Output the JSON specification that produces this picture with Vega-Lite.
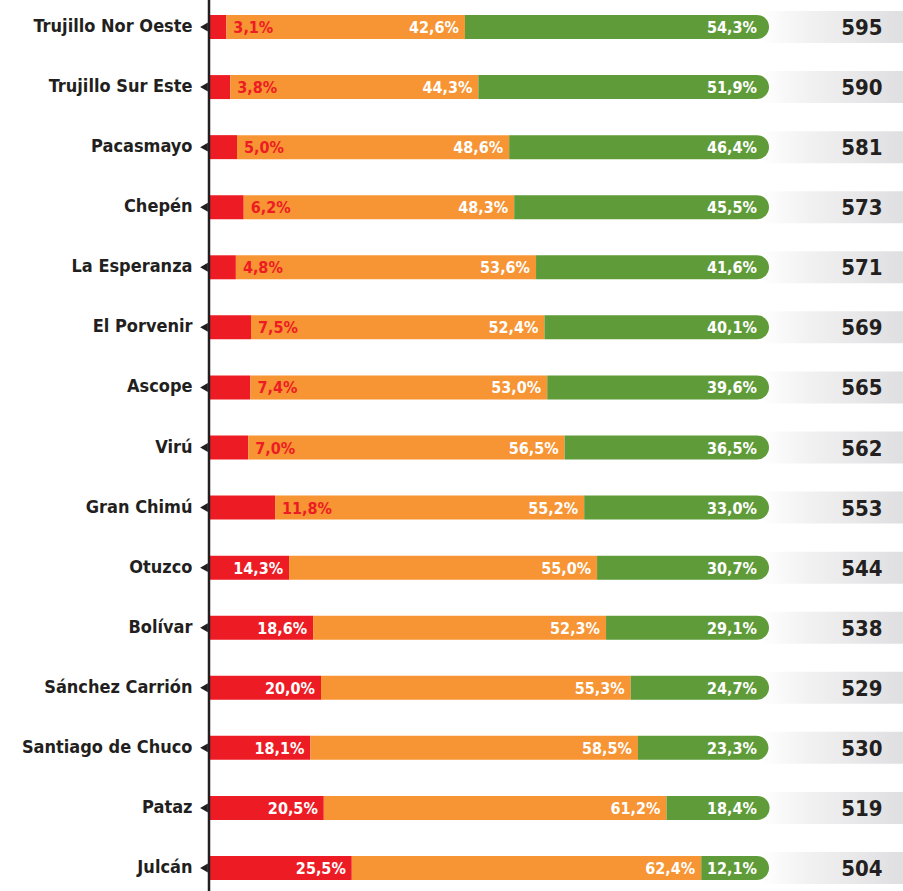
{
  "$schema": "https://vega.github.io/schema/vega-lite/v6.json",
  "width": 694,
  "height": 887,
  "autosize": "none",
  "padding": {"left": 209, "top": 4, "right": 0, "bottom": 0},
  "background": "white",
  "config": {
    "view": {"stroke": null},
    "locale": {
      "number": {"decimal": ",", "thousands": ".", "grouping": [3], "currency": ["", " €"], "percent": "%"}
    },
    "font": "DejaVu Sans Condensed, Roboto"
  },
  "datasets": {
    "rows": [
      {"region": "Trujillo Nor Oeste", "n": 595},
      {"region": "Trujillo Sur Este", "n": 590},
      {"region": "Pacasmayo", "n": 581},
      {"region": "Chepén", "n": 573},
      {"region": "La Esperanza", "n": 571},
      {"region": "El Porvenir", "n": 569},
      {"region": "Ascope", "n": 565},
      {"region": "Virú", "n": 562},
      {"region": "Gran Chimú", "n": 553},
      {"region": "Otuzco", "n": 544},
      {"region": "Bolívar", "n": 538},
      {"region": "Sánchez Carrión", "n": 529},
      {"region": "Santiago de Chuco", "n": 530},
      {"region": "Pataz", "n": 519},
      {"region": "Julcán", "n": 504}
    ],
    "segs": [
      {"region": "Trujillo Nor Oeste", "cat": "bajo", "k": 1, "v": 0.031},
      {"region": "Trujillo Nor Oeste", "cat": "medio", "k": 2, "v": 0.426},
      {"region": "Trujillo Nor Oeste", "cat": "alto", "k": 3, "v": 0.543},
      {"region": "Trujillo Sur Este", "cat": "bajo", "k": 1, "v": 0.038},
      {"region": "Trujillo Sur Este", "cat": "medio", "k": 2, "v": 0.443},
      {"region": "Trujillo Sur Este", "cat": "alto", "k": 3, "v": 0.519},
      {"region": "Pacasmayo", "cat": "bajo", "k": 1, "v": 0.050},
      {"region": "Pacasmayo", "cat": "medio", "k": 2, "v": 0.486},
      {"region": "Pacasmayo", "cat": "alto", "k": 3, "v": 0.464},
      {"region": "Chepén", "cat": "bajo", "k": 1, "v": 0.062},
      {"region": "Chepén", "cat": "medio", "k": 2, "v": 0.483},
      {"region": "Chepén", "cat": "alto", "k": 3, "v": 0.455},
      {"region": "La Esperanza", "cat": "bajo", "k": 1, "v": 0.048},
      {"region": "La Esperanza", "cat": "medio", "k": 2, "v": 0.536},
      {"region": "La Esperanza", "cat": "alto", "k": 3, "v": 0.416},
      {"region": "El Porvenir", "cat": "bajo", "k": 1, "v": 0.075},
      {"region": "El Porvenir", "cat": "medio", "k": 2, "v": 0.524},
      {"region": "El Porvenir", "cat": "alto", "k": 3, "v": 0.401},
      {"region": "Ascope", "cat": "bajo", "k": 1, "v": 0.074},
      {"region": "Ascope", "cat": "medio", "k": 2, "v": 0.530},
      {"region": "Ascope", "cat": "alto", "k": 3, "v": 0.396},
      {"region": "Virú", "cat": "bajo", "k": 1, "v": 0.070},
      {"region": "Virú", "cat": "medio", "k": 2, "v": 0.565},
      {"region": "Virú", "cat": "alto", "k": 3, "v": 0.365},
      {"region": "Gran Chimú", "cat": "bajo", "k": 1, "v": 0.118},
      {"region": "Gran Chimú", "cat": "medio", "k": 2, "v": 0.552},
      {"region": "Gran Chimú", "cat": "alto", "k": 3, "v": 0.330},
      {"region": "Otuzco", "cat": "bajo", "k": 1, "v": 0.143},
      {"region": "Otuzco", "cat": "medio", "k": 2, "v": 0.550},
      {"region": "Otuzco", "cat": "alto", "k": 3, "v": 0.307},
      {"region": "Bolívar", "cat": "bajo", "k": 1, "v": 0.186},
      {"region": "Bolívar", "cat": "medio", "k": 2, "v": 0.523},
      {"region": "Bolívar", "cat": "alto", "k": 3, "v": 0.291},
      {"region": "Sánchez Carrión", "cat": "bajo", "k": 1, "v": 0.200},
      {"region": "Sánchez Carrión", "cat": "medio", "k": 2, "v": 0.553},
      {"region": "Sánchez Carrión", "cat": "alto", "k": 3, "v": 0.247},
      {"region": "Santiago de Chuco", "cat": "bajo", "k": 1, "v": 0.181},
      {"region": "Santiago de Chuco", "cat": "medio", "k": 2, "v": 0.585},
      {"region": "Santiago de Chuco", "cat": "alto", "k": 3, "v": 0.233},
      {"region": "Pataz", "cat": "bajo", "k": 1, "v": 0.205},
      {"region": "Pataz", "cat": "medio", "k": 2, "v": 0.612},
      {"region": "Pataz", "cat": "alto", "k": 3, "v": 0.184},
      {"region": "Julcán", "cat": "bajo", "k": 1, "v": 0.255},
      {"region": "Julcán", "cat": "medio", "k": 2, "v": 0.624},
      {"region": "Julcán", "cat": "alto", "k": 3, "v": 0.121}
    ]
  },
  "encoding": {
    "y": {
      "field": "region",
      "type": "nominal",
      "sort": null,
      "scale": {
        "domain": ["Trujillo Nor Oeste", "Trujillo Sur Este", "Pacasmayo", "Chepén", "La Esperanza", "El Porvenir", "Ascope", "Virú", "Gran Chimú", "Otuzco", "Bolívar", "Sánchez Carrión", "Santiago de Chuco", "Pataz", "Julcán"],
        "paddingInner": 0.6,
        "paddingOuter": 0.183
      },
      "axis": {
        "title": null,
        "ticks": false,
        "domain": false,
        "labelPadding": 17,
        "labelLimit": 0,
        "labelFont": "DejaVu Sans Condensed, Roboto",
        "labelFontWeight": "bold",
        "labelFontSize": 18,
        "labelColor": "#231f20"
      }
    }
  },
  "layer": [
    {
      "data": {"name": "rows"},
      "mark": {
        "type": "bar",
        "size": 32,
        "color": {
          "gradient": "linear",
          "x1": 0, "y1": 0, "x2": 1, "y2": 0,
          "stops": [
            {"offset": 0, "color": "#ffffff"},
            {"offset": 0.35, "color": "#f1f1f2"},
            {"offset": 1, "color": "#dfdfe1"}
          ]
        }
      },
      "encoding": {
        "x": {"datum": 0.985, "type": "quantitative", "scale": {"domain": [0, 1.2393], "nice": false, "zero": true}, "axis": null},
        "x2": {"datum": 1.2393}
      }
    },
    {
      "data": {"name": "segs"},
      "transform": [
        {"stack": "v", "groupby": ["region"], "sort": [{"field": "k", "order": "ascending"}], "as": ["x0", "x1"]}
      ],
      "layer": [
        {
          "transform": [{"filter": "datum.cat !== 'alto'"}],
          "mark": {"type": "bar", "size": 24},
          "encoding": {
            "x": {"field": "x0", "type": "quantitative"},
            "x2": {"field": "x1"},
            "color": {"field": "cat", "type": "nominal", "legend": null,
              "scale": {"domain": ["bajo", "medio", "alto"], "range": ["#ed1c24", "#f79433", "#5f9c39"]}}
          }
        },
        {
          "transform": [{"filter": "datum.cat === 'alto'"}],
          "mark": {"type": "bar", "size": 24, "cornerRadiusTopRight": 12, "cornerRadiusBottomRight": 12},
          "encoding": {
            "x": {"field": "x0", "type": "quantitative"},
            "x2": {"field": "x1"},
            "color": {"field": "cat", "type": "nominal", "legend": null}
          }
        },
        {
          "transform": [{"filter": "datum.cat === 'bajo' && datum.v < 0.14"}],
          "mark": {"type": "text", "align": "left", "baseline": "middle", "dx": 7, "dy": 1, "font": "DejaVu Sans Condensed, Roboto", "fontWeight": "bold", "fontSize": 16, "color": "#ed1c24"},
          "encoding": {
            "x": {"field": "x1", "type": "quantitative"},
            "text": {"field": "v", "type": "quantitative", "format": ".1%"}
          }
        },
        {
          "transform": [{"filter": "(datum.cat === 'bajo' && datum.v >= 0.14) || datum.cat === 'medio'"}],
          "mark": {"type": "text", "align": "right", "baseline": "middle", "dx": -6, "dy": 1, "font": "DejaVu Sans Condensed, Roboto", "fontWeight": "bold", "fontSize": 16, "color": "#ffffff"},
          "encoding": {
            "x": {"field": "x1", "type": "quantitative"},
            "text": {"field": "v", "type": "quantitative", "format": ".1%"}
          }
        },
        {
          "transform": [{"filter": "datum.cat === 'alto'"}],
          "mark": {"type": "text", "align": "right", "baseline": "middle", "dx": -12, "dy": 1, "font": "DejaVu Sans Condensed, Roboto", "fontWeight": "bold", "fontSize": 16, "color": "#ffffff"},
          "encoding": {
            "x": {"datum": 1, "type": "quantitative"},
            "text": {"field": "v", "type": "quantitative", "format": ".1%"}
          }
        }
      ]
    },
    {
      "data": {"name": "rows"},
      "mark": {"type": "text", "align": "center", "baseline": "middle", "dy": 1, "font": "DejaVu Sans Condensed, Roboto", "fontWeight": "bold", "fontSize": 22, "color": "#231f20"},
      "encoding": {
        "x": {"datum": 1.166, "type": "quantitative"},
        "text": {"field": "n", "type": "quantitative"}
      }
    },
    {
      "data": {"name": "rows"},
      "mark": {"type": "point", "filled": true, "opacity": 1, "size": 80, "color": "#231f20", "shape": "triangle-left", "xOffset": -5},
      "encoding": {
        "x": {"datum": 0, "type": "quantitative"}
      }
    },
    {
      "data": {"values": [{"a": 0}]},
      "mark": {"type": "rule", "color": "#231f20", "strokeWidth": 2.5},
      "encoding": {
        "x": {"datum": 0, "type": "quantitative"},
        "y": {"value": -4},
        "y2": {"value": 887}
      }
    }
  ]
}
